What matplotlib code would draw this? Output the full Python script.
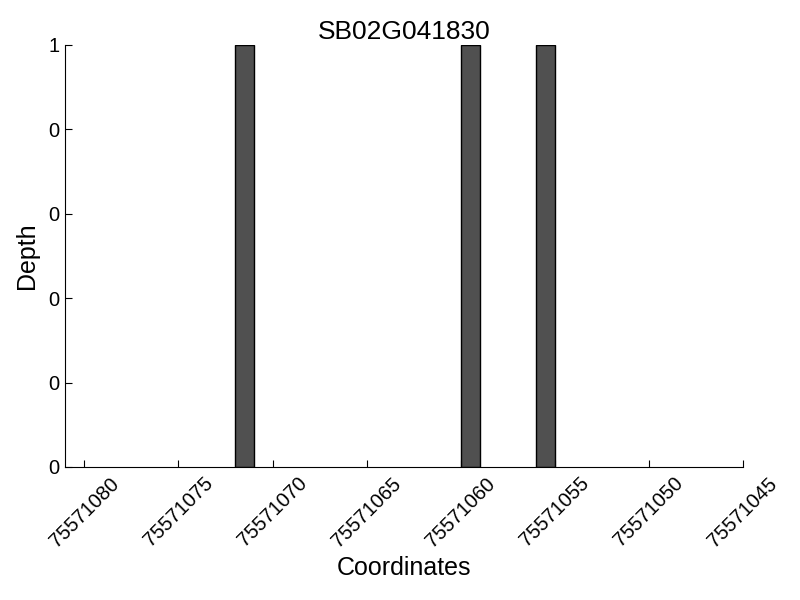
import matplotlib
matplotlib.use("Agg")
import matplotlib.pyplot as plt
from matplotlib.ticker import FormatStrFormatter

plt.rcParams['font.family'] = ['Liberation Sans', 'DejaVu Sans']

title = "SB02G041830"
coords = [75571071, 75571059, 75571055]
depth = [1, 1, 1]
xticks = [75571080, 75571075, 75571070, 75571065, 75571060, 75571055, 75571050, 75571045]
yticks = [0, 0.2, 0.4, 0.6, 0.8, 1.0]

fig = plt.figure(figsize=(8, 6), dpi=100)
ax = fig.add_axes([0.08125, 0.2217, 0.8475, 0.7033])
ax.bar(coords, depth, width=1, align='edge', color='#505050', edgecolor='black', linewidth=1)
ax.set_xlim(75571081.03, 75571045)
ax.set_ylim(0, 1)
ax.set_xticks(xticks)
ax.set_xticklabels([str(t) for t in xticks], rotation=45, ha='center')
ax.set_yticks(yticks)
ax.yaxis.set_major_formatter(FormatStrFormatter('%d'))
ax.tick_params(direction='in', labelsize=14.5, length=5)
ax.tick_params(axis='x', pad=5)
ax.tick_params(axis='y', pad=4)
ax.spines['top'].set_visible(False)
ax.spines['right'].set_visible(False)
ax.set_title(title, fontsize=19, pad=4)
ax.set_xlabel("Coordinates", fontsize=18, labelpad=4)
ax.set_ylabel("Depth", fontsize=18, labelpad=7)
fig.savefig("out.png", dpi=100)
